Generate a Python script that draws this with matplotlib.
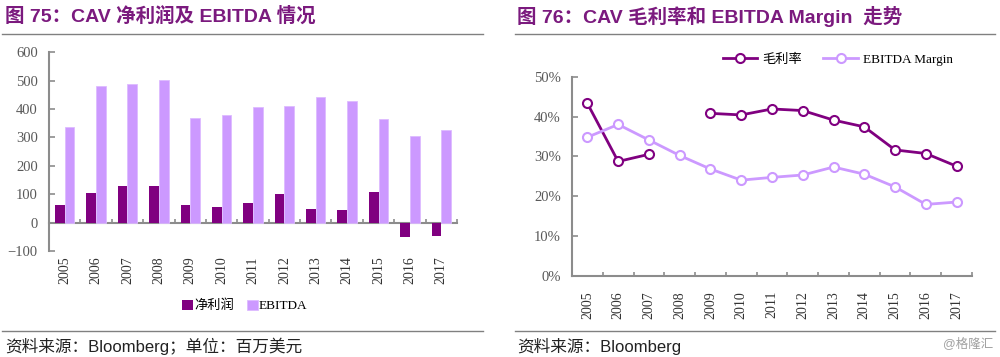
import numpy as np
import matplotlib
matplotlib.use('Agg')
import matplotlib.pyplot as plt
from matplotlib.lines import Line2D

years = ['2005', '2006', '2007', '2008', '2009', '2010', '2011',
         '2012', '2013', '2014', '2015', '2016', '2017']
net_income = [61, 103, 127, 128, 61, 54, 68, 99, 48, 43, 107, -50, -46]
ebitda = [338, 482, 487, 502, 369, 377, 407, 412, 443, 427, 364, 305, 325]
gross_margin = [43.3, 28.7, 30.5, np.nan, 40.8, 40.4, 41.9, 41.5, 39.1, 37.4, 31.6, 30.7, 27.5]
ebitda_margin = [34.8, 38.0, 34.1, 30.2, 26.8, 24.0, 24.7, 25.3, 27.3, 25.5, 22.3, 17.9, 18.5]

title_left = '图 75：CAV 净利润及 EBITDA 情况'
title_right = '图 76：CAV 毛利率和 EBITDA Margin  走势'
source_left = '资料来源：Bloomberg；单位：百万美元'
source_right = '资料来源：Bloomberg'

DARK = '#800080'
LIGHT = '#CC99FF'
TITLE_C = '#7B1A7E'
SPINE = '#8C8C8C'
SANS = ['Liberation Sans', 'Noto Sans CJK SC']
SERIF = ['Liberation Serif', 'Noto Sans CJK SC']

fig = plt.figure(figsize=(10, 3.57), dpi=100)
x = np.arange(len(years))

# ---- left chart: bars
ax = fig.add_axes([0.049, 0.297, 0.408, 0.557])
w = 0.31
b1 = ax.bar(x - w / 2, net_income, w, color=DARK, label='净利润')
b2 = ax.bar(x + w / 2, ebitda, w, color=LIGHT, edgecolor='#DDBBFF', linewidth=0.6, label='EBITDA')
ax.set_xlim(-0.5, 12.5)
ax.set_ylim(-100, 600)
ax.set_yticks(range(-100, 601, 100))
for s in ['top', 'right', 'bottom']:
    ax.spines[s].set_visible(False)
ax.spines['left'].set_color(SPINE)
ax.spines['left'].set_linewidth(1.5)
ax.tick_params(axis='y', direction='in', length=4, color=SPINE, width=1.2,
               labelsize=10.5, labelcolor='#595959', pad=8)
ax.set_xticks(x)
ax.set_xticklabels(years, rotation=90, fontsize=10, family=SERIF, color='#333333')
ax.tick_params(axis='x', length=0, pad=4)
for lab in ax.get_yticklabels():
    lab.set_family(SERIF)
# zero line with boundary ticks
sec = ax.secondary_xaxis(100 / 700)
sec.set_xticks(np.arange(-0.5, 13, 1))
sec.tick_params(direction='in', length=3, color=SPINE, width=1.2, labelbottom=False)
sec.spines['bottom'].set_color(SPINE)
sec.spines['bottom'].set_linewidth(1.5)
ax.legend(handles=[b1, b2], loc='center', bbox_to_anchor=(0.245, 0.143),
          bbox_transform=fig.transFigure, ncol=2, frameon=False,
          handlelength=0.8, handleheight=0.8, handletextpad=0.1, columnspacing=1.0,
          prop={'family': SERIF, 'size': 9.5})

# ---- right chart: lines
ax2 = fig.add_axes([0.572, 0.228, 0.400, 0.557])
ax2.plot(x, gross_margin, color=DARK, lw=2, marker='o', ms=6.5,
         mfc='white', mec=DARK, mew=1.5, label='毛利率')
ax2.plot(x, ebitda_margin, color=LIGHT, lw=2, marker='o', ms=6.5,
         mfc='white', mec=LIGHT, mew=1.5, label='EBITDA Margin')
ax2.set_xlim(-0.5, 12.5)
ax2.set_ylim(0, 50)
ax2.set_yticks(range(0, 51, 10))
ax2.set_yticklabels([f'{v}%' for v in range(0, 51, 10)], family=SERIF)
for s in ['top', 'right']:
    ax2.spines[s].set_visible(False)
for s in ['left', 'bottom']:
    ax2.spines[s].set_color(SPINE)
    ax2.spines[s].set_linewidth(1.5)
ax2.tick_params(axis='y', direction='in', length=4, color=SPINE, width=1.2,
                labelsize=10.5, labelcolor='#595959', pad=8)
ax2.set_xticks(x)
ax2.set_xticklabels(years, rotation=90, fontsize=10, family=SERIF, color='#333333')
ax2.set_xticks(np.arange(0.5, 13, 1), minor=True)
ax2.tick_params(axis='x', which='major', length=0, pad=11)
ax2.tick_params(axis='x', which='minor', direction='in', length=3, color=SPINE, width=1.2)
ax2.legend(loc='center', bbox_to_anchor=(0.838, 0.832), bbox_transform=fig.transFigure,
           ncol=2, frameon=False, handlelength=2.6, handletextpad=0.4, columnspacing=1.6,
           prop={'family': SERIF, 'size': 9.5})

# ---- titles, rules, sources
fig.text(0.005, 0.955, title_left, fontsize=14, fontweight='bold', color=TITLE_C,
         family=SANS, va='center')
fig.text(0.517, 0.955, title_right, fontsize=14, fontweight='bold', color=TITLE_C,
         family=SANS, va='center')
for x0, x1 in [(0.002, 0.483), (0.515, 0.995)]:
    fig.add_artist(Line2D([x0, x1], [1 - 33.5 / 357] * 2, color='#808080', lw=1))
    fig.add_artist(Line2D([x0, x1], [1 - 330.5 / 357] * 2, color='#808080', lw=1))
fig.text(0.005, 1 - 346 / 357, source_left, fontsize=12, family=SANS, va='center', color='#222222')
fig.text(0.517, 1 - 346 / 357, source_right, fontsize=12, family=SANS, va='center', color='#222222')
fig.text(0.993, 1 - 344 / 357, '@格隆汇', fontsize=9, family=SANS, va='center', ha='right', color='#A0A0A0')

plt.savefig('out.png', dpi=100)
plt.close()
